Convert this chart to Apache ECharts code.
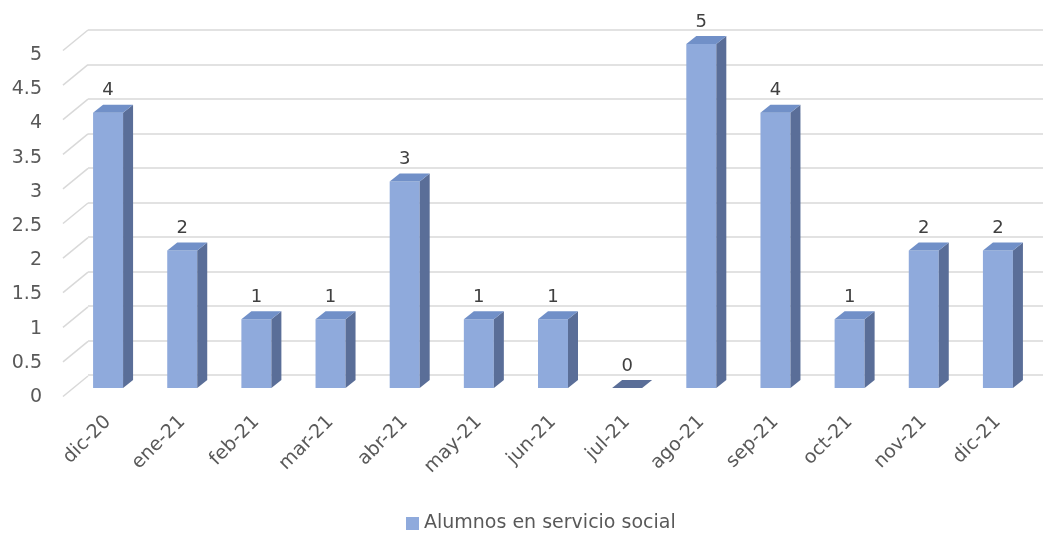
<!DOCTYPE html>
<html>
<head>
<meta charset="utf-8">
<script src="https://cdn.jsdelivr.net/npm/echarts@6/dist/echarts.min.js"></script>
<style>
  html, body { margin: 0; padding: 0; background: #ffffff; }
  #chart { width: 1043px; height: 538px; }
</style>
</head>
<body>
<div id="chart"></div>
<script>
// Alumnos en servicio social por mes
const categories = ['dic-20', 'ene-21', 'feb-21', 'mar-21', 'abr-21', 'may-21', 'jun-21',
                    'jul-21', 'ago-21', 'sep-21', 'oct-21', 'nov-21', 'dic-21'];
const alumnos = [4, 2, 1, 1, 3, 1, 1, 0, 5, 4, 1, 2, 2];
const yTicks = [0, 0.5, 1, 1.5, 2, 2.5, 3, 3.5, 4, 4.5, 5];

const FONT = '"DejaVu Sans", "Noto Sans", sans-serif';
const FRONT = '#8FAADC';
const SIDE = '#5A6E98';
const TOP = '#7190C8';
const GRID_LINE = '#D9D9D9';
const TEXT = '#595959';

// pseudo-3D depth of the columns and of the wall
const BAR_W = 30, DEPTH_X = 10, DEPTH_Y = 8;
const WALL_DY = 20.5;

const chart = echarts.init(document.getElementById('chart'), null, { renderer: 'canvas' });

function renderWallLinks(params, api) {
  const v = api.value(0);
  const a = api.coord([0, v]);
  const b = api.coord([1, v]);
  return {
    type: 'line',
    shape: { x1: a[0], y1: a[1], x2: b[0], y2: b[1] - WALL_DY },
    style: { stroke: GRID_LINE, lineWidth: 1.5 },
    silent: true
  };
}

function renderColumn(params, api) {
  const i = api.value(0);
  const v = api.value(1);
  const topPt = api.coord([i, v]);
  const basePt = api.coord([i, 0]);
  const x0 = topPt[0] - BAR_W / 2;
  const x1 = topPt[0] + BAR_W / 2;
  const yt = topPt[1];
  const yb = basePt[1];
  const solid = yb - yt > 0.5;
  const children = [];
  if (solid) {
    children.push({
      type: 'polygon',
      shape: { points: [[x0, yt], [x1, yt], [x1, yb], [x0, yb]] },
      style: { fill: FRONT }
    });
    children.push({
      type: 'polygon',
      shape: { points: [[x1, yt], [x1 + DEPTH_X, yt - DEPTH_Y], [x1 + DEPTH_X, yb - DEPTH_Y], [x1, yb]] },
      style: { fill: SIDE }
    });
  }
  children.push({
    type: 'polygon',
    shape: { points: [[x0, yt], [x0 + DEPTH_X, yt - DEPTH_Y], [x1 + DEPTH_X, yt - DEPTH_Y], [x1, yt]] },
    style: { fill: solid ? TOP : SIDE }
  });
  children.push({
    type: 'text',
    style: {
      text: String(v),
      x: topPt[0],
      y: yt - 22,
      align: 'center',
      verticalAlign: 'middle',
      font: '18px ' + FONT,
      fill: '#404040'
    }
  });
  return { type: 'group', children: children };
}

const option = {
  backgroundColor: '#ffffff',
  animation: false,
  textStyle: { fontFamily: FONT },
  grid: [
    // back wall
    { left: 88, right: 0, top: 30, height: 345 },
    // wall links on the floor edge
    { left: 63, width: 25, top: 50.5, height: 346 },
    // columns
    { left: 71, right: 8, top: 44, height: 344 },
    // value axis labels
    { left: 63, width: 25, top: 55, height: 342 }
  ],
  xAxis: [
    { gridIndex: 0, type: 'value', min: 0, max: 1, show: false },
    { gridIndex: 1, type: 'value', min: 0, max: 1, show: false },
    {
      gridIndex: 2, type: 'category', data: categories,
      axisLine: { show: false }, axisTick: { show: false },
      axisLabel: { rotate: 45, margin: 31, fontSize: 19, color: TEXT, fontFamily: FONT, interval: 0 }
    },
    { gridIndex: 3, type: 'value', min: 0, max: 1, show: false }
  ],
  yAxis: [
    {
      gridIndex: 0, type: 'value', min: 0, max: 5, interval: 0.5,
      axisLine: { show: false }, axisTick: { show: false }, axisLabel: { show: false },
      splitLine: { lineStyle: { color: GRID_LINE, width: 1.5 } }
    },
    { gridIndex: 1, type: 'value', min: 0, max: 5, show: false },
    { gridIndex: 2, type: 'value', min: 0, max: 5, show: false },
    {
      gridIndex: 3, type: 'value', min: 0, max: 5, interval: 0.5,
      axisLine: { show: false }, axisTick: { show: false }, splitLine: { show: false },
      axisLabel: { margin: 21, fontSize: 19, color: TEXT, fontFamily: FONT }
    }
  ],
  legend: {
    bottom: 0,
    left: 401,
    icon: 'rect',
    itemWidth: 13,
    itemHeight: 13,
    itemGap: 6,
    textStyle: { fontSize: 19, color: TEXT, fontFamily: FONT },
    data: ['Alumnos en servicio social']
  },
  series: [
    {
      type: 'custom',
      name: 'wall',
      xAxisIndex: 1, yAxisIndex: 1,
      data: yTicks.map(t => [t]),
      renderItem: renderWallLinks,
      silent: true
    },
    {
      type: 'custom',
      name: 'Alumnos en servicio social',
      xAxisIndex: 2, yAxisIndex: 2,
      itemStyle: { color: FRONT },
      data: alumnos.map((v, i) => [i, v]),
      encode: { x: 0, y: 1 },
      renderItem: renderColumn
    }
  ]
};

chart.setOption(option);
</script>
</body>
</html>
